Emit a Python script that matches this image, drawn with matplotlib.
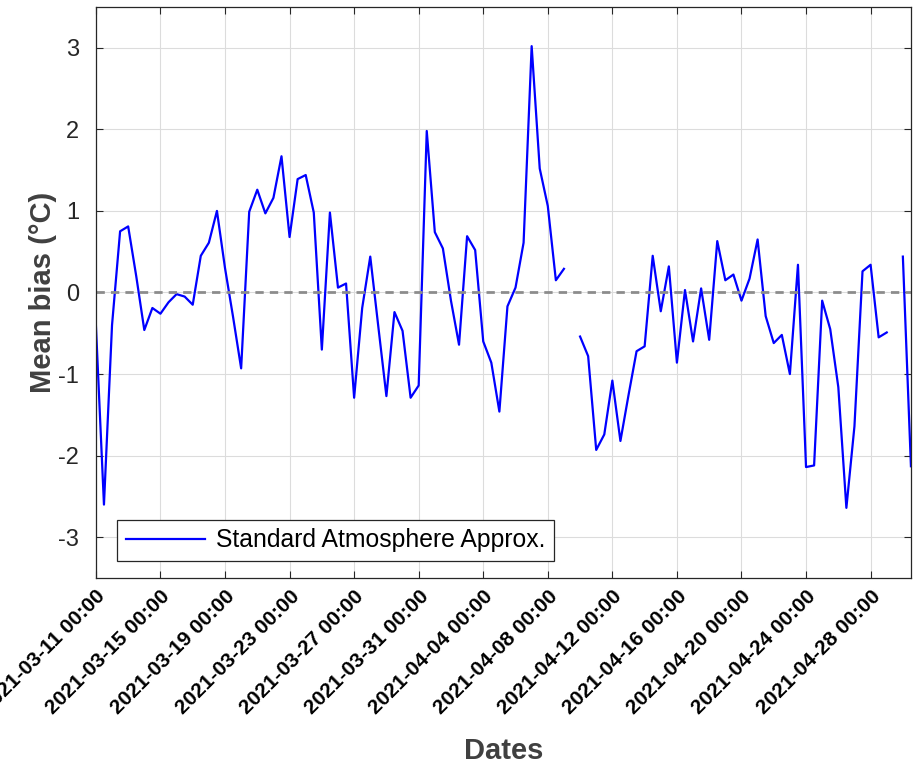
import numpy as np
import pandas as pd
import matplotlib
matplotlib.use("Agg")
import matplotlib.pyplot as plt
import matplotlib.dates as mdates

plt.rcParams['font.family'] = ['Liberation Sans', 'DejaVu Sans']
plt.rcParams['axes.unicode_minus'] = False

# 12-hourly mean bias, first value at 2021-03-11 00:00 (nan = missing)
bias_mar_a = [-0.40, -2.60, -0.40, 0.75, 0.81, 0.20, -0.46, -0.19, -0.26, -0.12, -0.02,
              -0.05, -0.15, 0.45, 0.61, 1.00, 0.30, -0.30, -0.93, 0.99, 1.26]
bias_mar_b = [0.97, 1.16, 1.67, 0.68, 1.39, 1.44, 0.98, -0.70, 0.98, 0.06,
              0.11, -1.29, -0.19, 0.44, -0.42, -1.27, -0.24, -0.47, -1.29, -1.14]
bias_apr_a = [1.98, 0.74, 0.54, -0.10, -0.64, 0.69, 0.52, -0.60, -0.86, -1.46,
              -0.17, 0.06, 0.61, 3.02, 1.52, 1.06, 0.15, 0.29, np.nan, -0.54]
bias_apr_b = [-0.78, -1.93, -1.74, -1.08, -1.82, -1.26, -0.72, -0.66, 0.45, -0.23,
              0.32, -0.86, 0.03, -0.60, 0.05, -0.58, 0.63, 0.15, 0.22, -0.10]
bias_apr_c = [0.17, 0.65, -0.29, -0.62, -0.52, -1.00, 0.34, -2.14, -2.12, -0.10,
              -0.45, -1.16, -2.64, -1.64, 0.26, 0.34, -0.55, -0.49, np.nan, 0.44, -2.13]

bias = np.array(bias_mar_a + bias_mar_b + bias_apr_a + bias_apr_b + bias_apr_c)
dates = pd.date_range("2021-03-11 00:00", periods=len(bias), freq="12h")
tick_dates = pd.date_range("2021-03-11", "2021-04-28", freq="4D")

dark = '#262626'
fig = plt.figure(figsize=(9.22, 7.67), dpi=100)
ax = fig.add_axes([0.104, 0.2464, 0.884, 0.7445])

ax.plot(dates, bias, color='#0000ff', lw=1.6, label='Standard Atmosphere Approx.')
ax.axhline(0, color='#8c8c8c', lw=2, ls=(0, (3, 2.2)))

ax.set_xlim(dates[0], dates[-1])
ax.set_ylim(-3.5, 3.5)
ax.set_yticks(np.arange(-3, 4))
ax.set_xticks(tick_dates)
ax.xaxis.set_major_formatter(mdates.DateFormatter('%Y-%m-%d %H:%M'))

ax.grid(True, color='#dcdcdc', lw=0.8)
ax.set_axisbelow(True)
ax.tick_params(direction='in', length=5, width=0.8, top=True, right=True, colors=dark)
ax.tick_params(axis='y', labelsize=17, pad=12)
ax.tick_params(axis='x', labelsize=15, pad=6)
for lab in ax.get_xticklabels():
    lab.set_rotation(45)
    lab.set_ha('right')
    lab.set_rotation_mode('anchor')
    lab.set_fontweight('bold')
    lab.set_color('black')
for s in ax.spines.values():
    s.set_color(dark)
    s.set_linewidth(0.9)

ax.set_xlabel('Dates', fontsize=21, fontweight='bold', color='#404040', labelpad=14)
ax.set_ylabel('Mean bias (°C)', fontsize=21, fontweight='bold', color='#404040', labelpad=1)

leg = ax.legend(loc='lower left', bbox_to_anchor=(0.026, 0.03), fontsize=17.8,
                handlelength=3.2, fancybox=False, framealpha=1, edgecolor=dark,
                borderpad=0.35, handletextpad=0.45, borderaxespad=0)
leg.get_frame().set_linewidth(0.9)

fig.savefig('out.png', dpi=100)
